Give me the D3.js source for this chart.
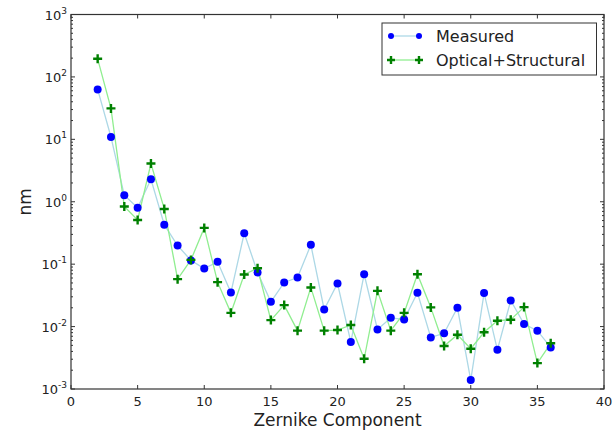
<!DOCTYPE html>
<html><head><meta charset="utf-8">
<script src="https://cdn.jsdelivr.net/npm/d3@7"></script>
<style>body{margin:0;background:#fff}svg text{font-family:"DejaVu Sans",sans-serif;fill:#222}</style>
</head><body>
<script>
const components = d3.range(2, 37);
const measured = [63, 10.9, 1.27, 0.80, 2.29, 0.43, 0.199, 0.115, 0.085, 0.109, 0.035, 0.313, 0.0737, 0.0249, 0.051, 0.061, 0.204, 0.0188, 0.049, 0.00565, 0.069, 0.0090, 0.0138, 0.0130, 0.0348, 0.0067, 0.0078, 0.020, 0.00139, 0.0344, 0.00425, 0.0262, 0.011, 0.0086, 0.00464];
const optical = [195, 31.3, 0.838, 0.51, 4.09, 0.767, 0.0575, 0.117, 0.381, 0.0515, 0.0166, 0.0684, 0.086, 0.0127, 0.0221, 0.0086, 0.0424, 0.0086, 0.0088, 0.0106, 0.00305, 0.0374, 0.0086, 0.0166, 0.069, 0.0203, 0.00488, 0.0074, 0.00442, 0.0081, 0.0124, 0.0129, 0.0205, 0.0026, 0.0054];
const xTicks = [0, 5, 10, 15, 20, 25, 30, 35, 40];
const yExps = [-3, -2, -1, 0, 1, 2, 3];
const seriesNames = ["Measured", "Optical+Structural"];

const W = 616, H = 433;
const m = {l: 71, r: 12, t: 14.5, b: 44};
const svg = d3.select("body").append("svg").attr("width", W).attr("height", H);
const x = d3.scaleLinear().domain([0, 40]).range([m.l, W - m.r]);
const y = d3.scaleLog().domain([1e-3, 1e3]).range([H - m.b, m.t]);
const x0 = x(0), x1 = x(40), y0 = y(1e-3), y1 = y(1e3);
const axisCol = "#333";

// data lines
const line = d3.line().x(d => x(d[0])).y(d => y(d[1]));
const mData = components.map((c, i) => [c, measured[i]]);
const oData = components.map((c, i) => [c, optical[i]]);
svg.append("path").datum(mData).attr("d", line).attr("fill", "none").attr("stroke", "#add8e6").attr("stroke-width", 1.3);
svg.append("path").datum(oData).attr("d", line).attr("fill", "none").attr("stroke", "#90ee90").attr("stroke-width", 1.3);

function plus(g, cx, cy, s) {
  g.append("path").attr("d", `M${cx - s},${cy}H${cx + s}M${cx},${cy - s}V${cy + s}`)
    .attr("stroke", "#008000").attr("stroke-width", 2.4).attr("fill", "none");
}
svg.append("g").selectAll("circle").data(mData).join("circle")
  .attr("cx", d => x(d[0])).attr("cy", d => y(d[1])).attr("r", 4).attr("fill", "#0000ff");
const pg = svg.append("g");
oData.forEach(d => plus(pg, x(d[0]), y(d[1]), 4.5));

// frame
svg.append("rect").attr("x", x0).attr("y", y1).attr("width", x1 - x0).attr("height", y0 - y1)
  .attr("fill", "none").attr("stroke", axisCol).attr("stroke-width", 1.2);

// x ticks (inward, bottom and top)
const tg = svg.append("g").attr("stroke", axisCol).attr("stroke-width", 1);
xTicks.forEach(t => {
  tg.append("line").attr("x1", x(t)).attr("x2", x(t)).attr("y1", y0).attr("y2", y0 - 4);
  tg.append("line").attr("x1", x(t)).attr("x2", x(t)).attr("y1", y1).attr("y2", y1 + 4);
});
svg.append("g").selectAll("text").data(xTicks).join("text")
  .attr("x", d => x(d)).attr("y", y0 + 17).attr("text-anchor", "middle").attr("font-size", 13).text(d => d);

// y ticks
yExps.forEach(e => {
  const v = Math.pow(10, e);
  tg.append("line").attr("x1", x0).attr("x2", x0 + 4).attr("y1", y(v)).attr("y2", y(v));
  tg.append("line").attr("x1", x1).attr("x2", x1 - 4).attr("y1", y(v)).attr("y2", y(v));
  if (e < 3) {
    for (let k = 2; k <= 9; k++) {
      const yy = y(k * v);
      tg.append("line").attr("x1", x0).attr("x2", x0 + 2).attr("y1", yy).attr("y2", yy);
      tg.append("line").attr("x1", x1).attr("x2", x1 - 2).attr("y1", yy).attr("y2", yy);
    }
  }
  const t = svg.append("text").attr("x", x0 - 4).attr("y", y(v) + 5).attr("text-anchor", "end").attr("font-size", 13);
  t.append("tspan").text("10");
  t.append("tspan").attr("dy", -6).attr("font-size", 9).text(e < 0 ? "-" + (-e) : String(e));
});

// axis labels
svg.append("text").attr("x", (x0 + x1) / 2).attr("y", 426).attr("text-anchor", "middle").attr("font-size", 17).text("Zernike Component");
svg.append("text").attr("transform", `translate(31,${(y0 + y1) / 2}) rotate(-90)`).attr("text-anchor", "middle").attr("font-size", 17).text("nm");

// legend
const lg = svg.append("g");
lg.append("rect").attr("x", 382).attr("y", 23).attr("width", 214.5).attr("height", 52).attr("fill", "#fff").attr("stroke", axisCol).attr("stroke-width", 1);
const ly = [36, 60];
lg.append("line").attr("x1", 391).attr("x2", 419).attr("y1", ly[0]).attr("y2", ly[0]).attr("stroke", "#add8e6").attr("stroke-width", 1.3);
lg.append("circle").attr("cx", 391).attr("cy", ly[0]).attr("r", 3).attr("fill", "#0000ff");
lg.append("circle").attr("cx", 419).attr("cy", ly[0]).attr("r", 3).attr("fill", "#0000ff");
lg.append("line").attr("x1", 391).attr("x2", 419).attr("y1", ly[1]).attr("y2", ly[1]).attr("stroke", "#90ee90").attr("stroke-width", 1.3);
plus(lg, 391, ly[1], 4); plus(lg, 419, ly[1], 4);
seriesNames.forEach((n, i) => {
  lg.append("text").attr("x", 436).attr("y", ly[i] + 5.5).attr("font-size", 16).text(n);
});
</script>
</body></html>
